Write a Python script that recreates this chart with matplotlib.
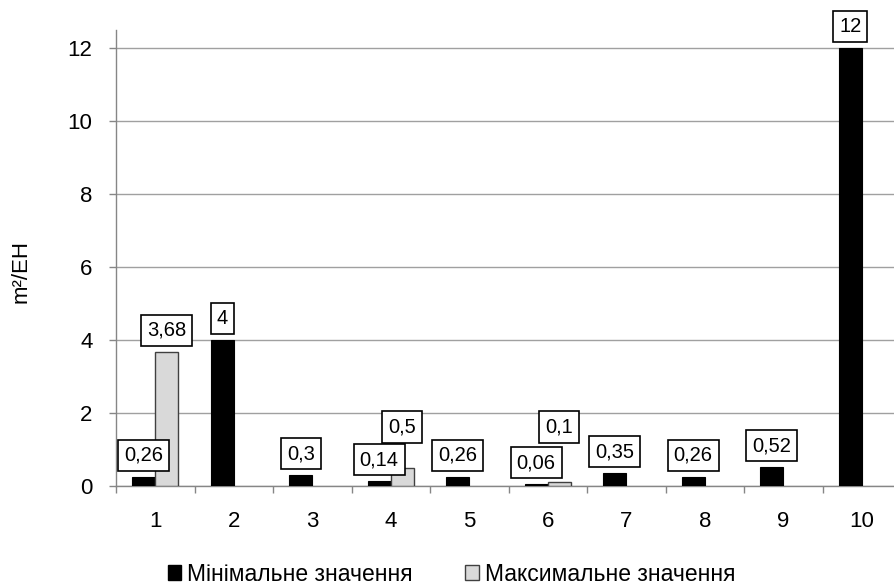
import numpy as np
import matplotlib
matplotlib.use('Agg')
import matplotlib.pyplot as plt
from matplotlib.patches import Patch

plt.rcParams['font.family'] = ['Liberation Sans', 'DejaVu Sans']

categories = ['1', '2', '3', '4', '5', '6', '7', '8', '9', '10']
min_vals = [0.26, 4, 0.3, 0.14, 0.26, 0.06, 0.35, 0.26, 0.52, 12]
max_vals = [3.68, None, None, 0.5, None, 0.1, None, None, None, None]
min_name = 'Мінімальне значення'
max_name = 'Максимальне значення'
ylabel = 'm²/EH'

# label offsets (points above the bar top); two max labels were lifted by hand
max_offsets = {3: 22.5, 5: 33}

def fmt(v):
    return ('%g' % v).replace('.', ',')

fig = plt.figure(figsize=(8.94, 5.87), dpi=100)
ax = fig.add_axes([116/894, 101/587, 785/894, 456/587])

x = np.arange(len(categories))
w = 0.293
ax.bar(x - w/2, min_vals, w, color='black', edgecolor='black', linewidth=0.8, zorder=3)
mx = [i for i, v in enumerate(max_vals) if v is not None]
ax.bar(x[mx] + w/2, [max_vals[i] for i in mx], w, color='#d9d9d9',
       edgecolor='#404040', linewidth=1.0, zorder=3)

box = dict(boxstyle='square,pad=0.3', fc='white', ec='black', lw=1.2)
for i, v in enumerate(min_vals):
    ax.annotate(fmt(v), (x[i] - w/2, v), xytext=(0, 8.5), textcoords='offset points',
                ha='center', va='bottom', fontsize=14.5, bbox=box, zorder=5)
for i in mx:
    v = max_vals[i]
    ax.annotate(fmt(v), (x[i] + w/2, v), xytext=(0, max_offsets.get(i, 8.5)),
                textcoords='offset points', ha='center', va='bottom',
                fontsize=14.5, bbox=box, zorder=6)

ax.set_xlim(-0.5, 9.5)
ax.set_ylim(0, 12.5)
ax.set_yticks(range(0, 13, 2))
ax.yaxis.grid(True, color='#a0a0a0', linewidth=1.0, zorder=0)
ax.set_axisbelow(True)

ax.set_xticks(x)
ax.set_xticklabels(categories)
ax.set_xticks(np.arange(-0.5, 10, 1), minor=True)
ax.tick_params(axis='x', which='major', length=0, pad=18, labelsize=16)
ax.tick_params(axis='x', which='minor', length=5, width=1, color='#868686', direction='out')
ax.tick_params(axis='y', length=5, width=1, color='#868686', pad=12, labelsize=16)

for s in ['top', 'right']:
    ax.spines[s].set_visible(False)
for s in ['left', 'bottom']:
    ax.spines[s].set_color('#868686')
    ax.spines[s].set_linewidth(1.0)

ax.set_ylabel(ylabel, fontsize=16)
ax.yaxis.set_label_coords(-0.107, 0.47)

handles = [Patch(facecolor='black', edgecolor='black', label=min_name),
           Patch(facecolor='#d9d9d9', edgecolor='#404040', label=max_name)]
fig.legend(handles=handles, loc='center', bbox_to_anchor=(0.505, 0.022), ncol=2,
           frameon=False, fontsize=16.5, handlelength=0.6, handleheight=0.6,
           handletextpad=0.25, columnspacing=2.3)

fig.savefig('out.png', dpi=100)
